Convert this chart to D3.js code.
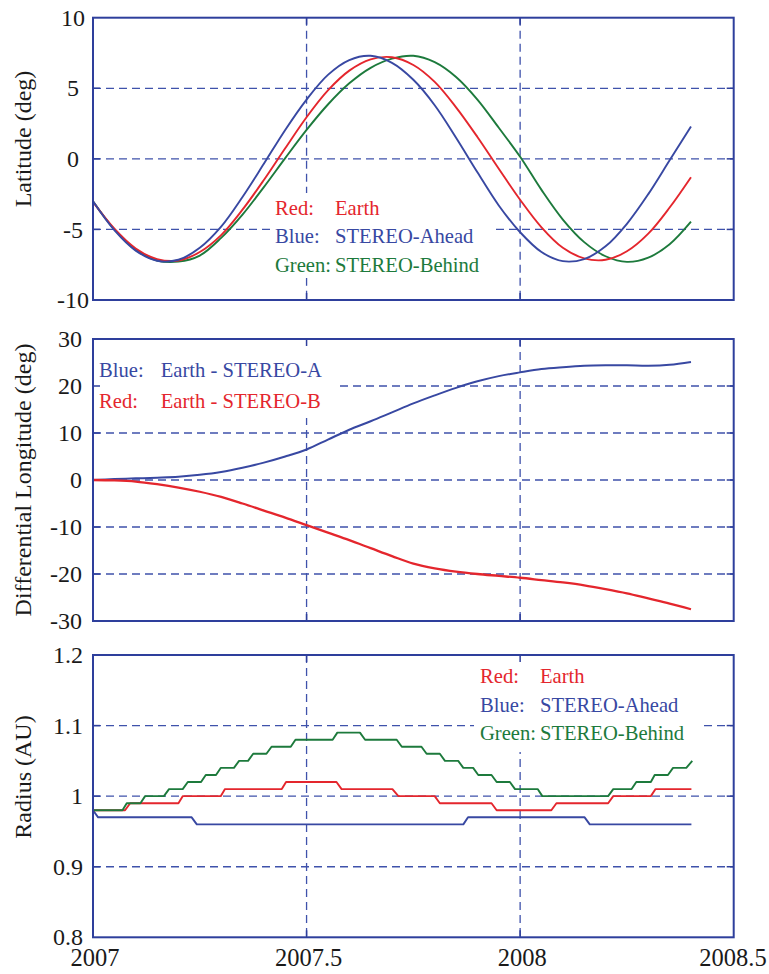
<!DOCTYPE html>
<html>
<head>
<meta charset="utf-8">
<script src="https://cdn.jsdelivr.net/npm/d3@7/dist/d3.min.js"></script>
<style>
  html, body { margin: 0; padding: 0; background: #fff; }
  svg { display: block; }
</style>
</head>
<body>
<svg id="chart" width="769" height="974"></svg>
<script>
// ---------------- DATA ----------------
const years = [2007.00, 2007.05, 2007.10, 2007.15, 2007.20, 2007.25, 2007.30, 2007.35, 2007.40, 2007.45,
               2007.50, 2007.55, 2007.60, 2007.65, 2007.70, 2007.75, 2007.80, 2007.85, 2007.90, 2007.95,
               2008.00, 2008.05, 2008.10, 2008.15, 2008.20, 2008.25, 2008.30, 2008.35, 2008.40];

// Panel 1: heliographic latitude (deg)
const latEarth  = [-3.05, -4.95, -6.35, -7.10, -7.20, -6.60, -5.40, -3.60, -1.50, 0.75,
                    2.95, 4.85, 6.25, 7.05, 7.20, 6.65, 5.45, 3.65, 1.55, -0.70,
                   -2.90, -4.85, -6.30, -7.05, -7.15, -6.55, -5.30, -3.45, -1.30];
const latAhead  = [-3.00, -5.05, -6.50, -7.22, -7.15, -6.30, -4.80, -2.70, -0.35, 2.05,
                    4.20, 5.95, 7.00, 7.30, 6.80, 5.60, 3.80, 1.50, -0.95, -3.30,
                   -5.20, -6.60, -7.25, -7.10, -6.20, -4.60, -2.50, -0.10, 2.30];
const latBehind = [-3.00, -5.00, -6.45, -7.20, -7.28, -6.85, -5.60, -3.95, -2.00, 0.05,
                    2.05, 3.85, 5.35, 6.45, 7.10, 7.30, 6.85, 5.80, 4.20, 2.20,
                    0.15, -2.20, -4.30, -5.90, -6.90, -7.30, -7.00, -6.05, -4.45];

// Panel 2: differential longitude (deg)
const dlonA = [0.0, 0.2, 0.35, 0.5, 0.7, 1.1, 1.7, 2.6, 3.7, 5.0,
               6.5, 8.6, 10.7, 12.5, 14.4, 16.3, 18.0, 19.6, 21.0, 22.1,
               22.9, 23.6, 24.0, 24.3, 24.4, 24.4, 24.3, 24.5, 25.1];
const dlonB = [0.0, -0.1, -0.35, -0.9, -1.6, -2.5, -3.6, -5.0, -6.5, -8.0,
               -9.6, -11.2, -12.8, -14.5, -16.2, -17.8, -18.8, -19.5, -20.0, -20.4,
               -20.8, -21.3, -21.8, -22.4, -23.2, -24.1, -25.2, -26.3, -27.5];

// Panel 3: radius (AU), [year, value] vertices of the plotted polylines
const radiusEarth = [[2007.000,0.98],[2007.075,0.98],[2007.087,0.99],[2007.200,0.99],[2007.210,1.00],
  [2007.299,1.00],[2007.309,1.01],[2007.442,1.01],[2007.452,1.02],[2007.570,1.02],[2007.582,1.01],
  [2007.701,1.01],[2007.715,1.00],[2007.800,1.00],[2007.812,0.99],[2007.933,0.99],[2007.945,0.98],
  [2008.073,0.98],[2008.085,0.99],[2008.206,0.99],[2008.218,1.00],[2008.306,1.00],[2008.317,1.01],
  [2008.401,1.01]];
const radiusAhead = [[2007.000,0.98],[2007.012,0.97],[2007.231,0.97],[2007.243,0.96],[2007.867,0.96],
  [2007.878,0.97],[2008.151,0.97],[2008.163,0.96],[2008.401,0.96]];
const radiusBehind = [[2007.000,0.98],[2007.069,0.98],[2007.079,0.99],[2007.111,0.99],[2007.122,1.00],
  [2007.166,1.00],[2007.178,1.01],[2007.210,1.01],[2007.222,1.02],[2007.253,1.02],[2007.264,1.03],
  [2007.288,1.03],[2007.299,1.04],[2007.330,1.04],[2007.342,1.05],[2007.363,1.05],[2007.375,1.06],
  [2007.406,1.06],[2007.418,1.07],[2007.463,1.07],[2007.474,1.08],[2007.561,1.08],[2007.572,1.09],
  [2007.625,1.09],[2007.637,1.08],[2007.711,1.08],[2007.723,1.07],[2007.769,1.07],[2007.781,1.06],
  [2007.812,1.06],[2007.824,1.05],[2007.855,1.05],[2007.867,1.04],[2007.890,1.04],[2007.902,1.03],
  [2007.933,1.03],[2007.945,1.02],[2007.976,1.02],[2007.988,1.01],[2008.041,1.01],[2008.052,1.00],
  [2008.206,1.00],[2008.218,1.01],[2008.261,1.01],[2008.272,1.02],[2008.306,1.02],[2008.315,1.03],
  [2008.346,1.03],[2008.358,1.04],[2008.389,1.04],[2008.403,1.05]];

// Ticks
const xTicks = [2007, 2007.5, 2008, 2008.5];
const xTickLabels = ["2007", "2007.5", "2008", "2008.5"];
const latTicks = [10, 5, 0, -5, -10];
const dlonTicks = [30, 20, 10, 0, -10, -20, -30];
const radTicks = [1.2, 1.1, 1.0, 0.9, 0.8];
const radTickLabels = ["1.2", "1.1", "1", "0.9", "0.8"];

// Legends
const legend1 = [["Red:", "Earth", "red"], ["Blue:", "STEREO-Ahead", "blue"], ["Green:", "STEREO-Behind", "green"]];
const legend2 = [["Blue:", "Earth - STEREO-A", "blue"], ["Red:", "Earth - STEREO-B", "red"]];
const legend3 = legend1;

// ---------------- STYLE ----------------
const FONT = "'Liberation Serif', 'Times New Roman', Times, serif";
const C = {
  red: "#e4262d", blue: "#3848a2", green: "#1d7a3c",
  frame: "#2e3f9c", grid: "#3f52ab", text: "#1a1a1a"
};

const svg = d3.select("#chart");
const xLeft = 93, xRight = 733.7;
const x = d3.scaleLinear().domain([2007, 2008.5]).range([xLeft, xRight]);

const panels = [
  { top: 17.7, bottom: 300, domain: [-10, 10], ticks: latTicks, labels: latTicks.map(String),
    title: "Latitude (deg)", titleY: 139, labelAnchor: "middle", labelX: 73,
    box: [270, 193, 492, 278] },
  { top: 339, bottom: 621, domain: [-30, 30], ticks: dlonTicks, labels: dlonTicks.map(String),
    title: "Differential Longitude (deg)", titleY: 480, labelAnchor: "end", labelX: 82,
    box: [94, 340, 335, 418] },
  { top: 655, bottom: 937.3, domain: [0.8, 1.2], ticks: radTicks, labels: radTickLabels,
    title: "Radius (AU)", titleY: 777, labelAnchor: "end", labelX: 83,
    box: [474, 656, 700, 752] }
];

panels.forEach(p => {
  p.y = d3.scaleLinear().domain(p.domain).range([p.bottom, p.top]);
  const g = svg.append("g");
  p.g = g;
  const inner = p.ticks.filter(t => t !== p.domain[0] && t !== p.domain[1]);
  g.selectAll("line.hg").data(inner).join("line")
    .attr("x1", xLeft).attr("x2", xRight)
    .attr("y1", d => p.y(d)).attr("y2", d => p.y(d))
    .attr("stroke", C.grid).attr("stroke-width", 1.3).attr("stroke-dasharray", "8,5");
  g.selectAll("line.vg").data([2007.5, 2008]).join("line")
    .attr("x1", d => x(d)).attr("x2", d => x(d))
    .attr("y1", p.top).attr("y2", p.bottom)
    .attr("stroke", C.grid).attr("stroke-width", 1.3).attr("stroke-dasharray", "8,5");
  g.append("rect")
    .attr("x", p.box[0]).attr("y", p.box[1])
    .attr("width", p.box[2] - p.box[0]).attr("height", p.box[3] - p.box[1])
    .attr("fill", "#fff");
  const tl = 7;
  inner.forEach(t => {
    g.append("line").attr("x1", xLeft).attr("x2", xLeft + tl).attr("y1", p.y(t)).attr("y2", p.y(t))
      .attr("stroke", C.frame).attr("stroke-width", 1.5);
    g.append("line").attr("x1", xRight).attr("x2", xRight - tl).attr("y1", p.y(t)).attr("y2", p.y(t))
      .attr("stroke", C.frame).attr("stroke-width", 1.5);
  });
  [2007.5, 2008].forEach(t => {
    g.append("line").attr("x1", x(t)).attr("x2", x(t)).attr("y1", p.bottom).attr("y2", p.bottom - tl)
      .attr("stroke", C.frame).attr("stroke-width", 1.5);
    g.append("line").attr("x1", x(t)).attr("x2", x(t)).attr("y1", p.top).attr("y2", p.top + tl)
      .attr("stroke", C.frame).attr("stroke-width", 1.5);
  });
  g.selectAll("text.yt").data(p.ticks).join("text")
    .attr("x", p.labelX).attr("y", d => p.y(d))
    .attr("dy", "0.34em")
    .attr("text-anchor", p.labelAnchor)
    .attr("font-family", FONT)
    .attr("font-size", 24).attr("fill", C.text)
    .text((d, i) => p.labels[i]);
  g.append("text")
    .attr("transform", `translate(31,${p.titleY}) rotate(-90)`)
    .attr("text-anchor", "middle")
    .attr("font-family", FONT)
    .attr("font-size", 24).attr("fill", C.text)
    .text(p.title);
});

// ---------------- LINES ----------------
function drawSeries(p, vals, color, width) {
  const line = d3.line().x((d, i) => x(years[i])).y(d => p.y(d)).curve(d3.curveCatmullRom);
  p.g.append("path").datum(vals).attr("d", line)
    .attr("fill", "none").attr("stroke", color).attr("stroke-width", width)
    .attr("stroke-linejoin", "round");
}
function drawPairs(p, pairs, color, width) {
  const line = d3.line().x(d => x(d[0])).y(d => p.y(d[1]));
  p.g.append("path").datum(pairs).attr("d", line)
    .attr("fill", "none").attr("stroke", color).attr("stroke-width", width)
    .attr("stroke-linejoin", "round");
}

drawSeries(panels[0], latBehind, C.green, 1.9);
drawSeries(panels[0], latEarth, C.red, 1.9);
drawSeries(panels[0], latAhead, C.blue, 1.9);

drawSeries(panels[1], dlonA, C.blue, 2);
drawSeries(panels[1], dlonB, C.red, 2.3);

drawPairs(panels[2], radiusAhead, C.blue, 1.9);
drawPairs(panels[2], radiusEarth, C.red, 1.9);
drawPairs(panels[2], radiusBehind, C.green, 1.9);

panels.forEach(p => {
  p.g.append("rect")
    .attr("x", xLeft).attr("y", p.top)
    .attr("width", xRight - xLeft).attr("height", p.bottom - p.top)
    .attr("fill", "none").attr("stroke", C.frame).attr("stroke-width", 2);
});

svg.selectAll("text.xt").data(xTicks).join("text")
  .attr("x", d => Math.min(x(d) + 2, 733))
  .attr("y", 966)
  .attr("text-anchor", "middle")
  .attr("font-family", FONT)
  .attr("font-size", 24.5).attr("fill", C.text)
  .text((d, i) => xTickLabels[i]);

// ---------------- LEGENDS ----------------
function drawLegend(p, items, x0, x1, y0, dy) {
  items.forEach((it, i) => {
    const col = C[it[2]];
    p.g.append("text").attr("x", x0).attr("y", y0 + i * dy)
      .attr("font-family", FONT)
      .attr("font-size", 20.6).attr("fill", col).text(it[0]);
    p.g.append("text").attr("x", x1).attr("y", y0 + i * dy)
      .attr("font-family", FONT)
      .attr("font-size", 20.6).attr("fill", col).text(it[1]);
  });
}
drawLegend(panels[0], legend1, 275, 335, 215, 28.3);
drawLegend(panels[1], legend2, 99, 160.7, 377, 31.3);
drawLegend(panels[2], legend3, 480, 540, 683, 28.7);
</script>
</body>
</html>
